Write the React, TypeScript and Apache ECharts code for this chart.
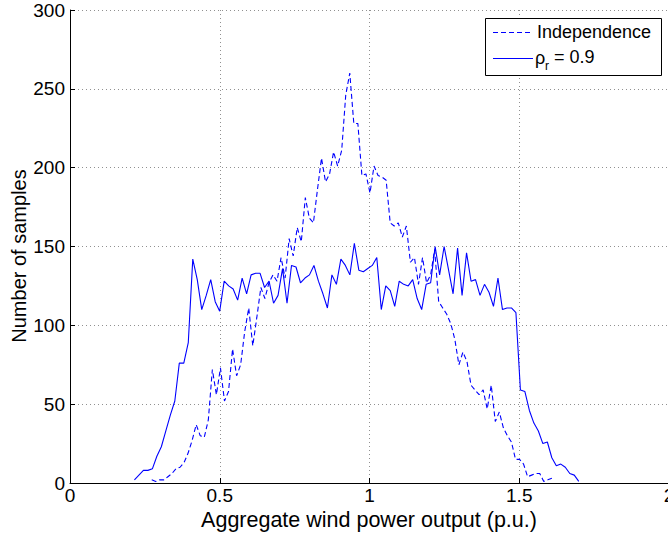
import React, { useEffect, useRef } from "react";
import * as echarts from "echarts";

// Histogram counts (100 bins each)
const correlatedCounts = [
  2, 5, 8, 8, 9, 17, 23, 33, 43, 52,
  76, 76, 89, 142, 129, 110, 119, 129, 115, 109,
  128, 125, 123, 116, 130, 120, 132, 133, 133, 124,
  128, 114, 119, 136, 114, 138, 137, 127, 130, 132,
  138, 128, 120, 111, 132, 126, 142, 138, 132, 152,
  135, 134, 136, 138, 143, 110, 125, 122, 112, 128,
  126, 125, 129, 117, 110, 126, 127, 150, 132, 150,
  135, 120, 149, 119, 146, 128, 129, 119, 126, 121,
  112, 130, 110, 111, 111, 108, 59, 58, 46, 38,
  33, 25, 26, 16, 11, 12, 10, 6, 5, 1,
];
const independenceCounts = [
  2, 1, 2, 2, 4, 6, 9, 10, 13, 19,
  27, 37, 30, 29, 40, 72, 56, 73, 52, 58,
  85, 68, 75, 96, 111, 87, 105, 124, 117, 127,
  132, 128, 143, 130, 155, 144, 162, 153, 181, 168,
  165, 186, 206, 191, 196, 210, 201, 211, 246, 260,
  228, 228, 195, 196, 184, 201, 195, 194, 192, 165,
  163, 165, 156, 163, 140, 143, 126, 143, 127, 132,
  148, 115, 111, 107, 101, 91, 75, 83, 77, 62,
  59, 56, 59, 47, 62, 39, 45, 35, 30, 26,
  15, 15, 12, 4, 5, 6, 6, 1, 2, 3,
];
// first and last bin centres (p.u.)
const correlatedBinCentres = [0.2151, 1.6987];
const independenceBinCentres = [0.2729, 1.6089];

const xTicks = [0, 0.5, 1, 1.5, 2];
const yTicks = [0, 50, 100, 150, 200, 250, 300];
const legendLabels = ["Independence", "ρ", "r", "= 0.9"];
const xTitle = "Aggregate wind power output (p.u.)";
const yTitle = "Number of samples";

function binned(counts: number[], range: number[]) {
  const n = counts.length;
  const step = (range[1] - range[0]) / (n - 1);
  return counts.map((c, i) => [range[0] + i * step, c]);
}

const FONT = "Liberation Sans, Arial, sans-serif";

export default function App() {
  const ref = useRef<HTMLDivElement>(null);
  useEffect(() => {
    const chart = echarts.init(ref.current!, null, { renderer: "svg" });
    const grid = { left: 70, top: 10, width: 599, height: 473, containLabel: false, outerBoundsMode: "none" };
    const dotted = { color: "#909090", width: 1, type: [1, 3] as any };
    chart.setOption({
      animation: false,
      backgroundColor: "#ffffff",
      grid,
      xAxis: {
        type: "value",
        min: xTicks[0],
        max: xTicks[xTicks.length - 1],
        interval: 0.5,
        axisLine: { show: true, onZero: false, lineStyle: { color: "#000", width: 1 } },
        axisTick: { show: true, inside: true, length: 5, lineStyle: { color: "#000" } },
        axisLabel: {
          color: "#000",
          fontSize: 19,
          fontFamily: FONT,
          margin: 3,
          hideOverlap: false,
          formatter: (v: number) => String(v),
        },
        splitLine: { show: true, lineStyle: dotted },
      },
      yAxis: {
        type: "value",
        min: yTicks[0],
        max: yTicks[yTicks.length - 1],
        interval: 50,
        axisLine: { show: true, onZero: false, lineStyle: { color: "#000", width: 1 } },
        axisTick: { show: true, inside: true, length: 5, lineStyle: { color: "#000" } },
        axisLabel: { color: "#000", fontSize: 19, fontFamily: FONT, margin: 5 },
        splitLine: { show: true, lineStyle: dotted },
      },
      series: [
        {
          name: "Independence",
          type: "line",
          data: binned(independenceCounts, independenceBinCentres),
          symbol: "none",
          lineStyle: { color: "#0000ff", width: 1.1, type: [5, 3] as any },
          z: 3,
        },
        {
          name: "rho",
          type: "line",
          data: binned(correlatedCounts, correlatedBinCentres),
          symbol: "none",
          lineStyle: { color: "#0000ff", width: 1.1, type: "solid" },
          z: 4,
        },
      ],
      graphic: [
        {
          type: "text",
          x: 369,
          y: 520,
          style: {
            text: xTitle,
            fontSize: 21.5,
            fontFamily: FONT,
            fill: "#000",
            align: "center",
            verticalAlign: "middle",
          },
        },
        {
          type: "text",
          x: 19,
          y: 256,
          rotation: Math.PI / 2,
          style: {
            text: yTitle,
            fontSize: 20,
            fontFamily: FONT,
            fill: "#000",
            align: "center",
            verticalAlign: "middle",
          },
        },
        {
          type: "rect",
          shape: { x: 485.5, y: 18.5, width: 176, height: 57 },
          style: { fill: "#fff", stroke: "#000", lineWidth: 1 },
          z: 10,
        },
        {
          type: "line",
          shape: { x1: 493, y1: 32.5, x2: 533, y2: 32.5 },
          style: { stroke: "#0000ff", lineWidth: 1.1, lineDash: [5, 3] },
          z: 11,
        },
        {
          type: "line",
          shape: { x1: 493, y1: 58.5, x2: 533, y2: 58.5 },
          style: { stroke: "#0000ff", lineWidth: 1.1 },
          z: 11,
        },
        {
          type: "text",
          x: 537,
          y: 32,
          style: { text: legendLabels[0], fontSize: 18, fontFamily: FONT, fill: "#000", verticalAlign: "middle" },
          z: 11,
        },
        {
          type: "text",
          x: 535,
          y: 58,
          style: { text: legendLabels[1], fontSize: 18, fontFamily: FONT, fill: "#000", verticalAlign: "middle" },
          z: 11,
        },
        {
          type: "text",
          x: 545,
          y: 66,
          style: { text: legendLabels[2], fontSize: 12, fontFamily: FONT, fill: "#000", verticalAlign: "middle" },
          z: 11,
        },
        {
          type: "text",
          x: 554,
          y: 57,
          style: { text: legendLabels[3], fontSize: 18, fontFamily: FONT, fill: "#000", verticalAlign: "middle" },
          z: 11,
        },
      ],
    });
    return () => chart.dispose();
  }, []);
  return (
    <div
      ref={ref}
      style={{ position: "absolute", left: 0, top: 0, width: 668, height: 534, background: "#fff" }}
    />
  );
}
